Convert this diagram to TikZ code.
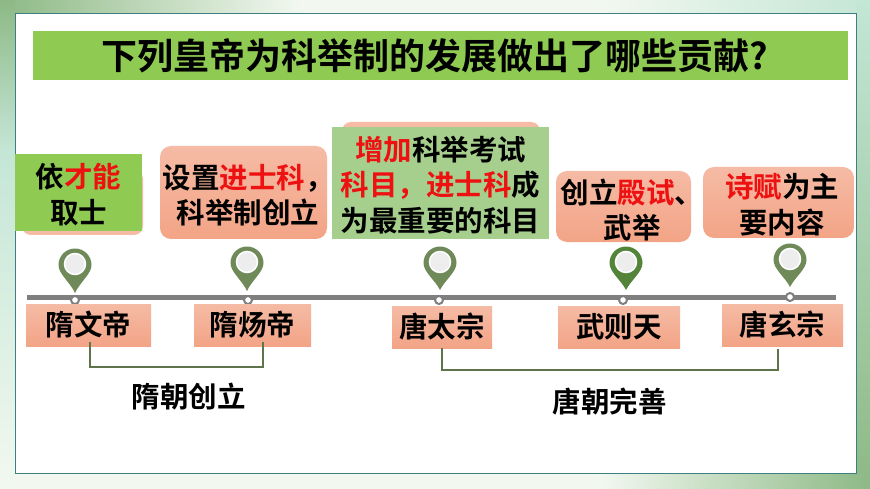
\documentclass[tikz,border=0pt]{standalone}
\usepackage{fontspec}
\setmainfont{Noto Sans CJK SC}[BoldFont={Noto Sans CJK SC Bold}]
\usetikzlibrary{shapes.geometric}
\definecolor{leaf}{HTML}{8FCB52}
\definecolor{paleleaf}{HTML}{A6CF8E}
\definecolor{salmon}{HTML}{F5BBA5}
\definecolor{salmondk}{HTML}{F3A486}
\definecolor{pinolive}{HTML}{6F8A58}
\definecolor{pindark}{HTML}{53843A}
\definecolor{railgray}{HTML}{7F7F7F}
\definecolor{frameteal}{HTML}{3E7F83}
\definecolor{redtxt}{HTML}{EE1111}
\definecolor{bgdeep}{HTML}{8DB985}
\definecolor{bgmint}{HTML}{C4E6D6}
\definecolor{bgpale}{HTML}{F2F8F0}
\newcommand{\hot}[1]{\textcolor{redtxt}{#1}}
\newcommand{\zhcomma}{\char"FF0C\relax}
\newcommand{\pinmark}[5]{% x, top, tip, colour, name
  \fill[#4] (#1-16.5,#2+17) arc[start angle=180,end angle=360,radius=16.5] .. controls (#1+16.5,#2+26) and (#1+5,#2+34) .. (#1,#3) .. controls (#1-5,#2+34) and (#1-16.5,#2+26) .. cycle;
  \node[pinhole] (#5) at (#1,#2+16) {};
}
\tikzset{
  x=1pt,y=-1pt,
  every node/.style={font=\bfseries\fontsize{28.5}{35.5}\selectfont,text=black,inner sep=0pt,align=center},
  textbox/.style={top color=salmon,bottom color=salmondk,rounded corners=11pt},
  namebox/.style={top color=salmon,bottom color=salmondk},
  pinhole/.style={circle,fill=black!7,draw=white,line width=1.5pt,minimum size=21pt},
  railknob/.style={circle,fill=white,draw=railgray,line width=2pt,minimum size=8pt},
  bracket/.style={draw=pinolive!85!black,line width=1.6pt},
}
\begin{document}
\begin{tikzpicture}
\useasboundingbox (0,0) rectangle (870,489);
% backdrop
\fill[bgpale] (0,0) rectangle (870,489);
\shade[left color=bgdeep,right color=bgpale] (0,0) rectangle (300,13);
\shade[left color=bgpale,right color=bgmint] (600,0) rectangle (870,13);
\shade[top color=bgdeep,bottom color=bgmint] (0,0) rectangle (15,150);
\shade[top color=bgmint,bottom color=bgpale] (0,150) rectangle (15,489);
\shade[top color=bgmint,bottom color=bgdeep] (856,0) rectangle (870,489);
\shade[left color=bgpale,right color=bgdeep] (600,473) rectangle (870,489);
\draw[frameteal,line width=0.8pt,fill=white] (15,13) rectangle (856,473);
% title
\node[fill=leaf,minimum width=815pt,minimum height=49pt,font=\bfseries\fontsize{36}{40}\selectfont] (title) at (440.5,55.5) {下列皇帝为科举制的发展做出了哪些贡献?\hspace*{12pt}};
% event boxes
\fill[salmon,rounded corners=9pt] (22,170) rectangle (143,235);
\node[fill=leaf,minimum width=127pt,minimum height=77pt] (yi) at (78.5,192.5) {};
\node (yitxt) at (78.5,194.5) {依\hot{才能}\\取士};
\node[textbox,minimum width=167pt,minimum height=93pt] (shezhi) at (243.5,192.5) {};
\node (shezhitxt) at (248,195) {设置\hot{进士科}\zhcomma\\科举制创立};
\fill[salmon,rounded corners=9pt] (342,122) rectangle (540,150);
\node[fill=paleleaf,minimum width=217pt,minimum height=112pt] (zengjia) at (440.5,183) {};
\node (zengjiatxt) at (440.5,185) {\hot{增加}科举考试\\\hot{科目\zhcomma 进士科}成\\为最重要的科目};
\node[textbox,minimum width=135pt,minimum height=71pt] (dianshi) at (623.5,206.5) {};
\node (dianshitxt) at (632,210) {创立\hot{殿试}、\\武举};
\node[textbox,minimum width=151pt,minimum height=71pt] (shifu) at (778.5,202.5) {};
\node (shifutxt) at (782,204.5) {\hot{诗赋}为主\\要内容};
% timeline
\fill[railgray] (27,295) rectangle (836,300);
\pinmark{75}{248}{293}{pinolive}{pina}
\pinmark{247}{246}{291}{pinolive}{pinb}
\pinmark{440}{246}{290}{pinolive}{pinc}
\pinmark{626}{246}{290}{pindark}{pind}
\pinmark{790}{243}{287}{pinolive}{pine}
\node[railknob] (knoba) at (75,300) {};
\node[railknob] (knobb) at (248,300) {};
\node[railknob] (knobc) at (439,300) {};
\node[railknob] (knobd) at (623,300) {};
\node[railknob] (knobe) at (790,297) {};
% emperors
\node[namebox,minimum width=125pt,minimum height=42pt] (wendi) at (88.5,325) {隋文帝};
\node[namebox,minimum width=117pt,minimum height=42pt] (yangdi) at (252.5,325) {隋炀帝};
\node[namebox,minimum width=100pt,minimum height=42pt] (taizong) at (442,327) {唐太宗};
\node[namebox,minimum width=122pt,minimum height=42pt] (wuzetian) at (619,327) {武则天};
\node[namebox,minimum width=121pt,minimum height=42pt] (xuanzong) at (782.5,325) {唐玄宗};
% dynasties
\draw[bracket] ([xshift=1.5pt,yshift=4pt]wendi.south) -- ++(0,25) -| ([xshift=10.5pt,yshift=4pt]yangdi.south);
\draw[bracket] (taizong.south) -- ++(0,22) -| ([xshift=-4.5pt,yshift=-3pt]xuanzong.south);
\node (suilabel) at (188.5,397) {隋朝创立};
\node (tanglabel) at (609.5,402) {唐朝完善};
\end{tikzpicture}
\end{document}
